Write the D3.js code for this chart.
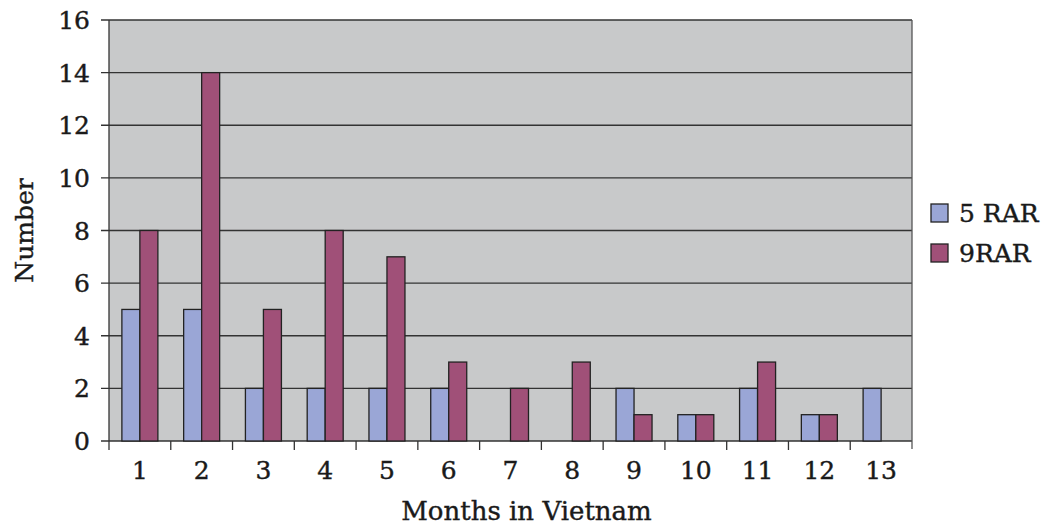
<!DOCTYPE html>
<html>
<head>
<meta charset="utf-8">
<script src="https://cdn.jsdelivr.net/npm/d3@7"></script>
<style>
  body { margin: 0; background: #fff; }
  text { font-family: "DejaVu Serif", serif; fill: #1a1a1a; stroke: #1a1a1a; stroke-width: 0.4px; }
</style>
</head>
<body>
<div id="chart"></div>
<script>
var months = ['1','2','3','4','5','6','7','8','9','10','11','12','13'];
var rar5 = [5, 5, 2, 2, 2, 2, 0, 0, 2, 1, 2, 1, 2];
var rar9 = [8, 14, 5, 8, 7, 3, 2, 3, 1, 1, 3, 1, 0];
var seriesNames = ['5 RAR', '9RAR'];
var colors = ['#9aa6d6', '#a05078'];
var yTicks = [0, 2, 4, 6, 8, 10, 12, 14, 16];

var width = 1042, height = 527;
var marge = {top: 20, left: 109, right: 130, bottom: 86};
var pw = width - marge.left - marge.right;
var ph = height - marge.top - marge.bottom;

var svg = d3.select('#chart').append('svg')
  .attr('width', width).attr('height', height);
var g = svg.append('g')
  .attr('transform', 'translate(' + marge.left + ',' + marge.top + ')');

var x = d3.scaleBand().domain(months).range([0, pw]);
var barW = 18;
var xs = d3.scaleBand().domain(seriesNames).range([0, barW * 2]);
var y = d3.scaleLinear().domain([0, 16]).range([ph, 0]);

g.append('rect')
  .attr('width', pw).attr('height', ph)
  .attr('fill', '#c8c9ca');

// grid
g.selectAll('.grid').data(yTicks).enter().append('line')
  .attr('x1', -8).attr('x2', pw)
  .attr('y1', function(d){ return y(d); })
  .attr('y2', function(d){ return y(d); })
  .attr('stroke', '#333').attr('stroke-width', 1.3);

g.append('line').attr('x1', 0).attr('x2', 0).attr('y1', 0).attr('y2', ph)
  .attr('stroke', '#333').attr('stroke-width', 1.3);
g.append('line').attr('x1', pw).attr('x2', pw).attr('y1', 0).attr('y2', ph + 8)
  .attr('stroke', '#555').attr('stroke-width', 1.3);

// x ticks at band edges
g.selectAll('.xt').data(months).enter().append('line')
  .attr('x1', function(d){ return x(d); })
  .attr('x2', function(d){ return x(d); })
  .attr('y1', ph).attr('y2', ph + 9)
  .attr('stroke', '#333').attr('stroke-width', 1.3);

var data = [rar5, rar9];
var groups = g.selectAll('.grp').data(months).enter().append('g')
  .attr('transform', function(d){ return 'translate(' + (x(d) + (x.bandwidth() - barW * 2) / 2) + ',0)'; });

groups.selectAll('rect')
  .data(function(d, i){ return seriesNames.map(function(s, j){ return {s: s, v: data[j][i], c: colors[j]}; }); })
  .enter().filter(function(d){ return d.v > 0; }).append('rect')
  .attr('x', function(d){ return xs(d.s); })
  .attr('y', function(d){ return y(d.v); })
  .attr('width', xs.bandwidth())
  .attr('height', function(d){ return ph - y(d.v); })
  .attr('fill', function(d){ return d.c; })
  .attr('stroke', '#222').attr('stroke-width', 1.3);

// y labels
g.selectAll('.yl').data(yTicks).enter().append('text')
  .attr('x', -19).attr('y', function(d){ return y(d); })
  .attr('dy', '0.36em')
  .attr('text-anchor', 'end')
  .style('font-size', '25px')
  .text(function(d){ return d; });

// x labels
g.selectAll('.xl').data(months).enter().append('text')
  .attr('x', function(d){ return x(d) + x.bandwidth() / 2; })
  .attr('y', ph + 38)
  .attr('text-anchor', 'middle')
  .style('font-size', '25px')
  .text(function(d){ return d; });

svg.append('text')
  .attr('x', marge.left + pw / 2 + 16).attr('y', 520)
  .attr('text-anchor', 'middle')
  .style('font-size', '26px')
  .text('Months in Vietnam');

svg.append('text')
  .attr('transform', 'translate(33,' + (marge.top + ph / 2) + ') rotate(-90)')
  .attr('text-anchor', 'middle')
  .style('font-size', '25px')
  .text('Number');

// legend
var lg = svg.append('g').attr('transform', 'translate(931,204)');
var li = lg.selectAll('g').data(seriesNames).enter().append('g')
  .attr('transform', function(d, i){ return 'translate(0,' + i * 40 + ')'; });
li.append('rect').attr('width', 17).attr('height', 18)
  .attr('fill', function(d, i){ return colors[i]; })
  .attr('stroke', '#222').attr('stroke-width', 1.3);
li.append('text').attr('x', 28).attr('y', 9).attr('dy', '0.36em')
  .style('font-size', '25px')
  .text(function(d){ return d; });
</script>
</body>
</html>
